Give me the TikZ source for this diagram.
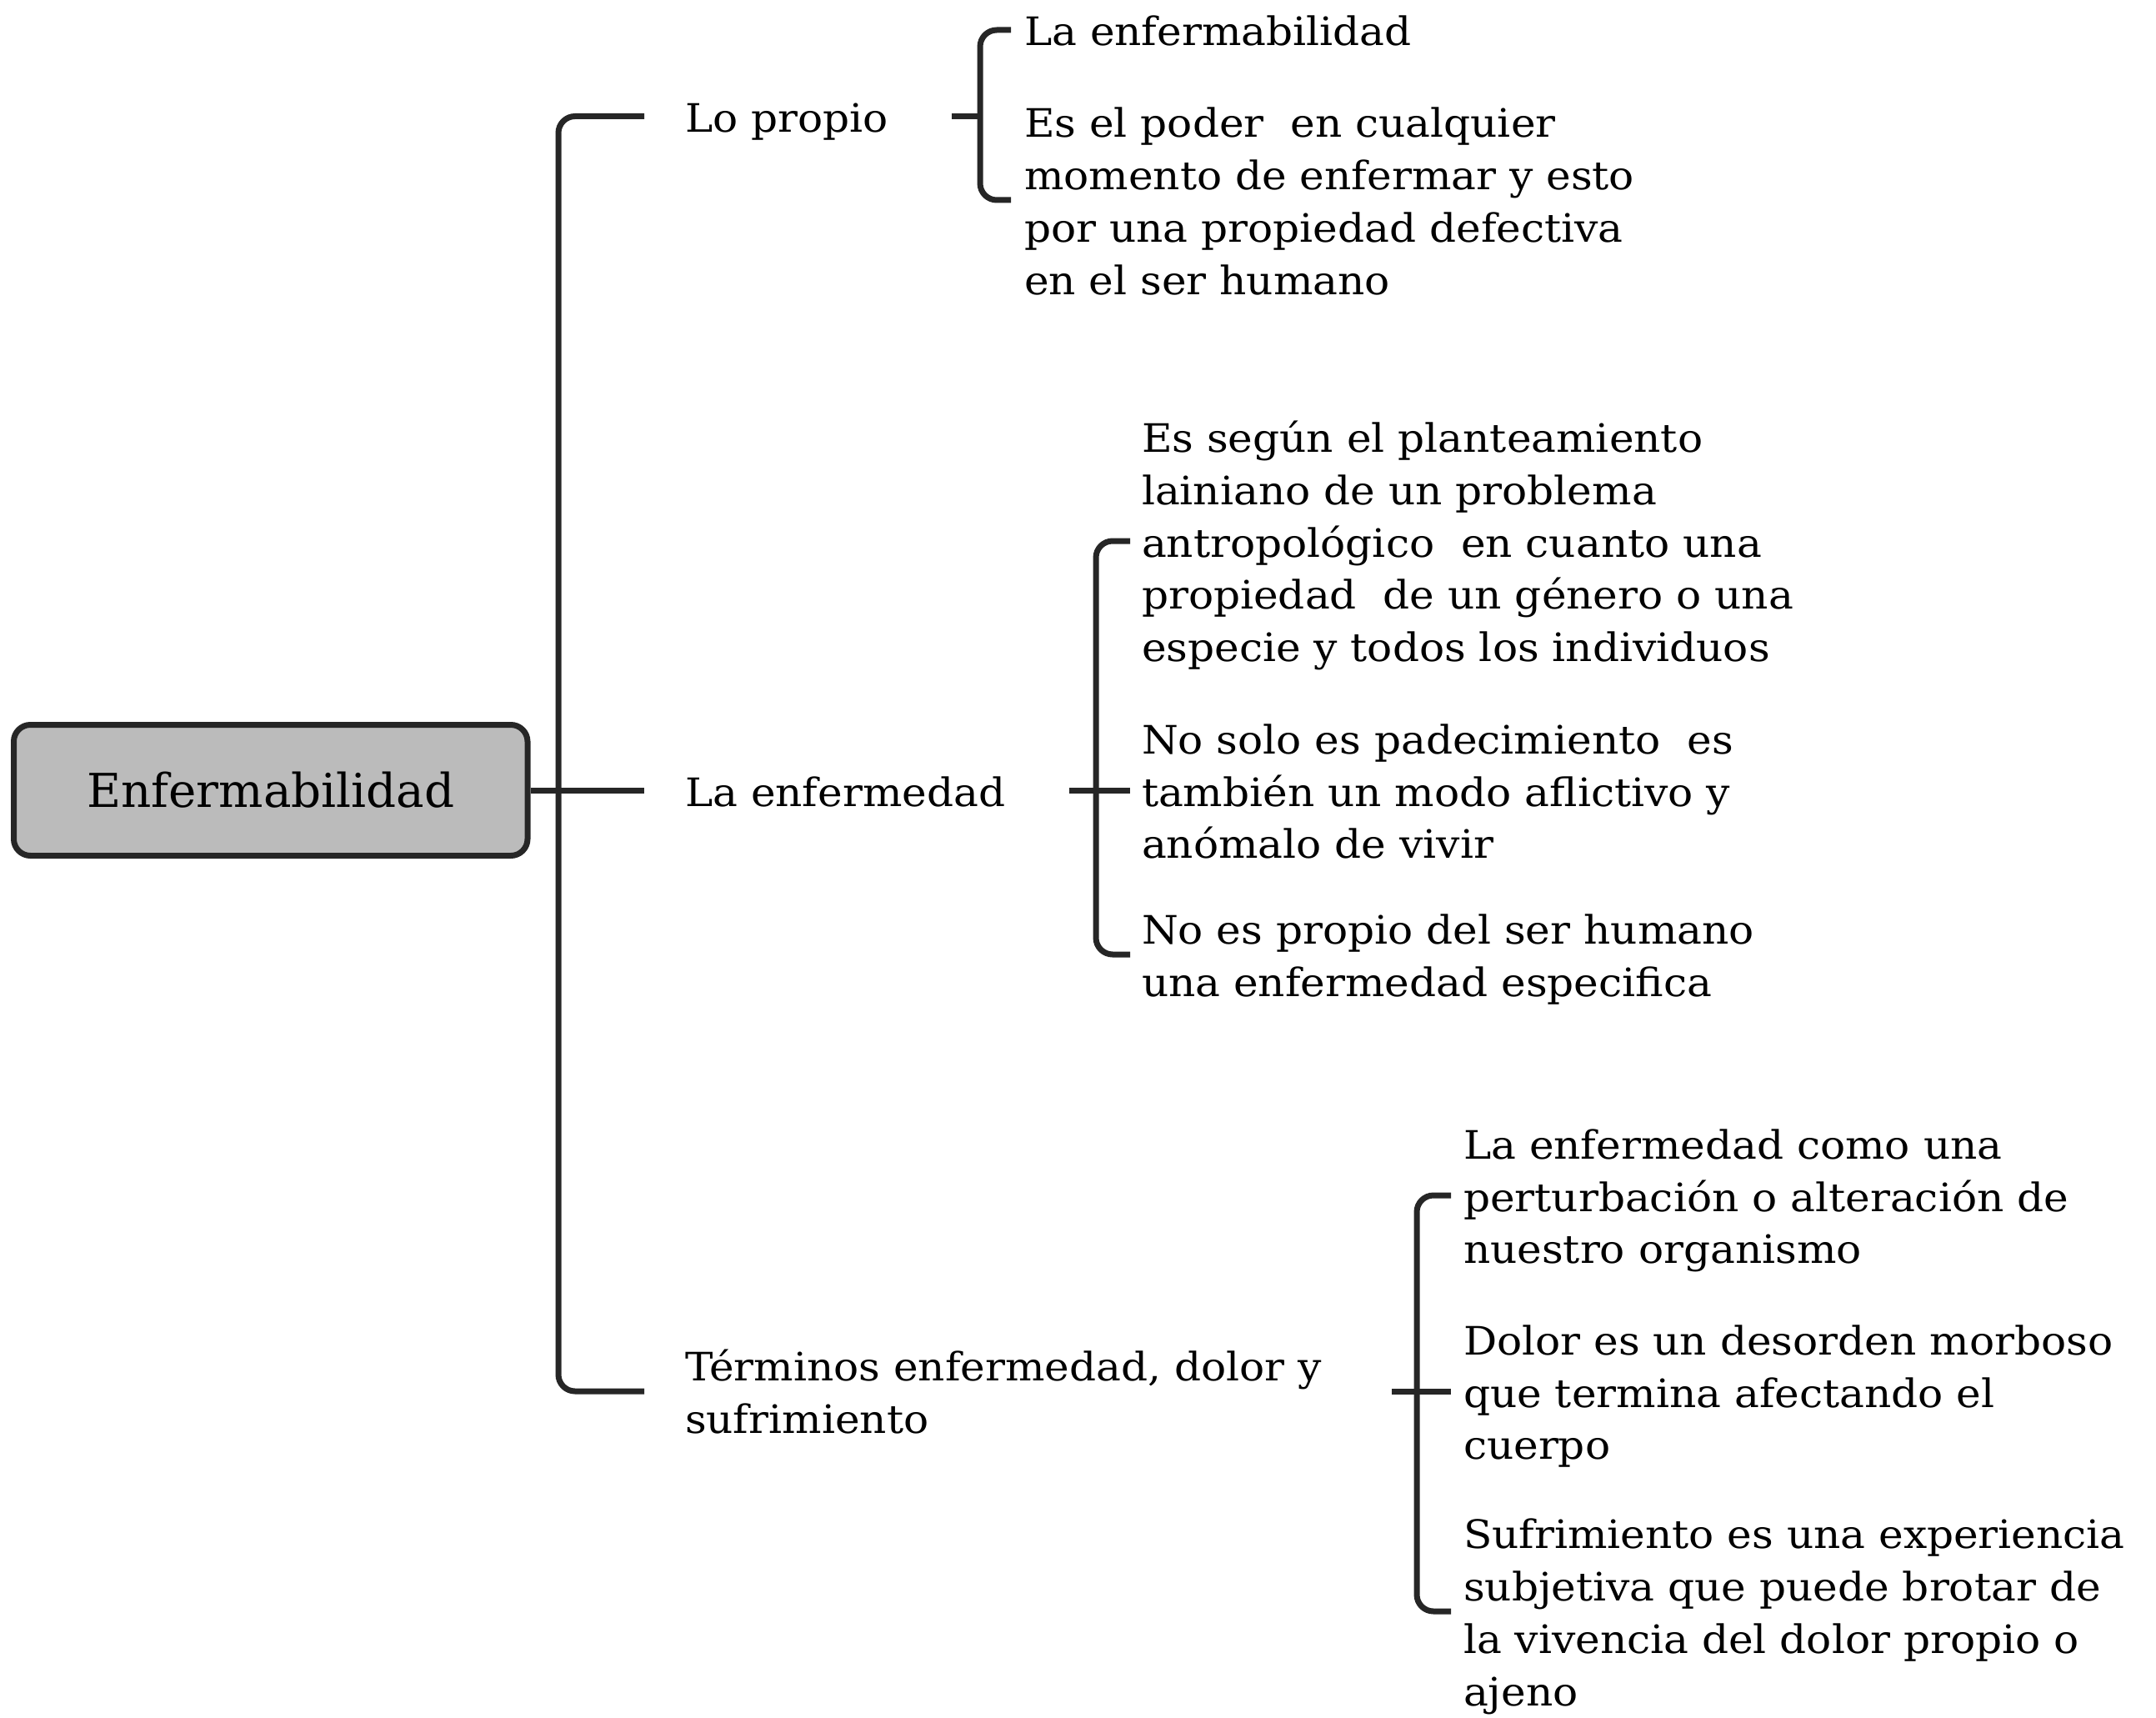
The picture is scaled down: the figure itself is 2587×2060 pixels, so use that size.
\documentclass[tikz,border=0pt]{standalone}
\usepackage{fontspec}
\setmainfont{DejaVu Serif Condensed}[FakeStretch=1.185]
\newfontfamily\rootfont{DejaVu Serif Condensed}[FakeStretch=1.118]
\definecolor{lc}{HTML}{262626}
\definecolor{rootfill}{HTML}{BBBBBB}
\newcommand{\ms}{\rule[-12.35pt]{0pt}{62.7pt}}
\begin{document}
\begin{tikzpicture}[x=1pt,y=-1pt,
  ln/.style={line width=7pt, draw=lc, rounded corners=20pt},
  txt/.style={anchor=west, inner sep=0pt, outer sep=0pt, align=left, font=\fontsize{47}{62.7}\selectfont},
  rootbox/.style={draw=lc, line width=7pt, fill=rootfill, rounded corners=20pt, minimum width=616.5pt, minimum height=157pt, inner sep=0pt, font=\rootfont\fontsize{56}{70}\selectfont}]
\useasboundingbox (0,0) rectangle (2587,2060);
% root
\node[rootbox] (R) at (324.75,948) {Enfermabilidad};
% level 1
\node[txt] (L1) at (822,139.5) {\ms Lo propio};
\node[txt] (L2) at (822,948) {\ms La enfermedad};
\node[txt] (L3) at (822,1669) {\ms Términos enfermedad, dolor y\\\ms sufrimiento};
% children of Lo propio
\node[txt] (P1) at (1229,36) {\ms La enfermabilidad};
\node[txt] (P2) at (1229,240) {\ms Es el poder~ en cualquier\\\ms momento de enfermar y esto\\\ms por una propiedad defectiva\\\ms en el ser humano};
% children of La enfermedad
\node[txt] (E1) at (1370,649) {\ms Es según el planteamiento\\\ms lainiano de un problema\\\ms antropológico~ en cuanto una\\\ms propiedad~ de un género o una\\\ms especie y todos los individuos};
\node[txt] (E2) at (1370,948) {\ms No solo es padecimiento~ es\\\ms también un modo aflictivo y\\\ms anómalo de vivir};
\node[txt] (E3) at (1370,1145) {\ms No es propio del ser humano\\\ms una enfermedad especifica};
% children of Terminos
\node[txt] (T1) at (1756,1434) {\ms La enfermedad como una\\\ms perturbación o alteración de\\\ms nuestro organismo};
\node[txt] (T2) at (1756,1669) {\ms Dolor es un desorden morboso\\\ms que termina afectando el\\\ms cuerpo};
\node[txt] (T3) at (1756,1933) {\ms Sufrimiento es una experiencia\\\ms subjetiva que puede brotar de\\\ms la vivencia del dolor propio o\\\ms ajeno};
% bracket columns
\coordinate (mx) at (670,0);
\coordinate (mend) at (773,0);
\coordinate (a1) at (1142,0);
\coordinate (a2) at (1176,0);
\coordinate (a3) at (1213,0);
\coordinate (b1) at (1283,0);
\coordinate (b2) at (1315,0);
\coordinate (b3) at (1356,0);
\coordinate (c1) at (1670,0);
\coordinate (c2) at (1700,0);
\coordinate (c3) at (1741,0);
% main bracket
\draw[ln] (R.east) -- (L2.west -| mend);
\draw[ln] (L1.west -| mend) -- (L1.west -| mx) -- (L3.west -| mx) -- (L3.west -| mend);
% Lo propio bracket
\draw[ln] (L1.west -| a1) -- (L1.west -| a2);
\draw[ln] (P1.west -| a3) -- (P1.west -| a2) -- (P2.west -| a2) -- (P2.west -| a3);
% La enfermedad bracket
\draw[ln] (L2.west -| b1) -- (L2.west -| b2);
\draw[ln] (E1.west -| b3) -- (E1.west -| b2) -- (E3.west -| b2) -- (E3.west -| b3);
\draw[ln] (E2.west -| b2) -- (E2.west -| b3);
% Terminos bracket
\draw[ln] (L3.west -| c1) -- (L3.west -| c2);
\draw[ln] (T1.west -| c3) -- (T1.west -| c2) -- (T3.west -| c2) -- (T3.west -| c3);
\draw[ln] (T2.west -| c2) -- (T2.west -| c3);
\end{tikzpicture}
\end{document}
